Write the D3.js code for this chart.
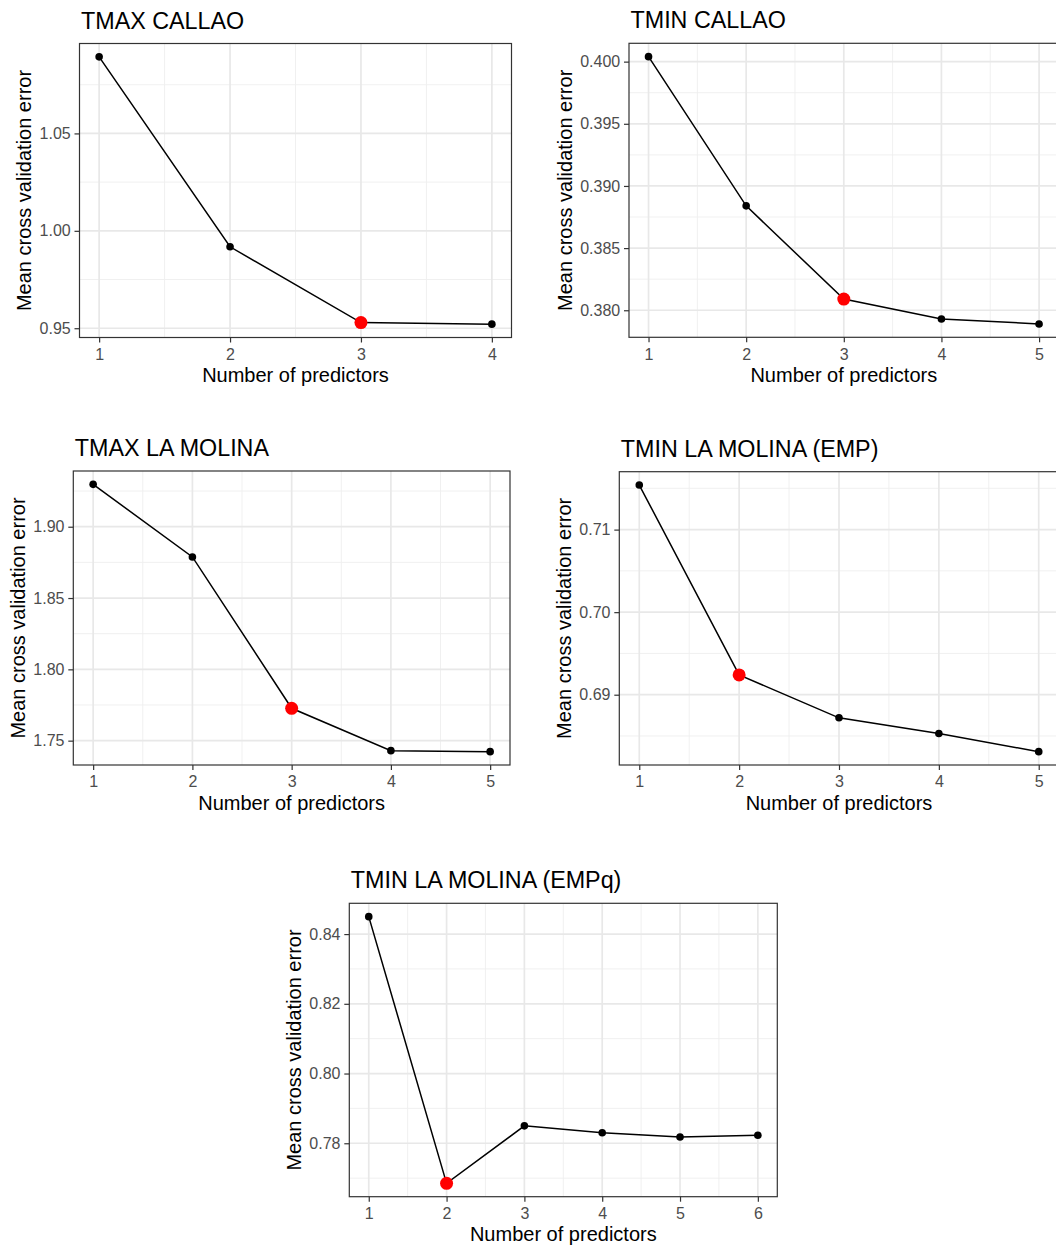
<!DOCTYPE html>
<html>
<head>
<meta charset="utf-8">
<script src="https://cdn.jsdelivr.net/npm/d3@7"></script>
<style>
  body { margin: 0; background: #fff; }
  svg { display: block; font-family: "Liberation Sans", Arial, sans-serif; }
</style>
</head>
<body>
<svg id="chart" width="1056" height="1246"></svg>
<script>
// values
var titles = ["TMAX CALLAO", "TMIN CALLAO", "TMAX LA MOLINA", "TMIN LA MOLINA (EMP)", "TMIN LA MOLINA (EMPq)"];
var tmaxCallao = [1.0893, 0.9918, 0.9529, 0.9521];
var tminCallao = [0.4004, 0.3884, 0.3809, 0.3793, 0.3789];
var tmaxLaMolina = [1.9297, 1.8788, 1.7727, 1.7430, 1.7423];
var tminLaMolinaEMP = [0.7154, 0.6924, 0.6872, 0.6853, 0.6831];
var tminLaMolinaEMPq = [0.8450, 0.7685, 0.7850, 0.7830, 0.7818, 0.7823];
var chosen = [3, 3, 3, 2, 2];   // number of predictors marked in red
var yTicks = [
  [0.95, 1.00, 1.05],
  [0.380, 0.385, 0.390, 0.395, 0.400],
  [1.75, 1.80, 1.85, 1.90],
  [0.69, 0.70, 0.71],
  [0.78, 0.80, 0.82, 0.84]
];
var yFormats = [".2f", ".3f", ".2f", ".2f", ".2f"];
var xLabel = "Number of predictors";
var yLabel = "Mean cross validation error";

var series = [tmaxCallao, tminCallao, tmaxLaMolina, tminLaMolinaEMP, tminLaMolinaEMPq];

// panel boxes (left, top, right, bottom)
var boxes = [
  [79.5, 43.5, 511.5, 337.5],
  [629, 43.3, 1058.6, 337.3],
  [73.3, 471, 510, 765],
  [619.3, 471.7, 1058.7, 765],
  [349.3, 903.3, 777.3, 1196.7]
];

var svg = d3.select("#chart");
svg.append("rect").attr("width", 1056).attr("height", 1246).attr("fill", "#fff");

function expand(ext){
  var pad = (ext[1] - ext[0]) * 0.05;
  return [ext[0] - pad, ext[1] + pad];
}

series.forEach(function(vals, i){
  var b = boxes[i];
  var pts = vals.map(function(v, k){ return {n: k + 1, v: v}; });
  var x = d3.scaleLinear().domain(expand([1, vals.length])).range([b[0], b[2]]);
  var y = d3.scaleLinear().domain(expand(d3.extent(vals))).range([b[3], b[1]]);

  var g = svg.append("g");

  // minor grid
  var xt = d3.range(1, vals.length + 1);
  var xMinor = d3.range(1.5, vals.length, 1);
  var yt = yTicks[i];
  var step = yt[1] - yt[0];
  var yMinor = [];
  for (var k = -1; k < yt.length; k++){
    var m = yt[0] + step * (k + 0.5);
    if (m > y.domain()[0] && m < y.domain()[1]) yMinor.push(m);
  }
  g.selectAll(".xmin").data(xMinor).enter().append("line")
    .attr("x1", x).attr("x2", x).attr("y1", b[1]).attr("y2", b[3])
    .attr("stroke", "#eeeeee").attr("stroke-width", 0.9);
  g.selectAll(".ymin").data(yMinor).enter().append("line")
    .attr("y1", y).attr("y2", y).attr("x1", b[0]).attr("x2", b[2])
    .attr("stroke", "#eeeeee").attr("stroke-width", 0.9);
  // major grid
  g.selectAll(".xmaj").data(xt).enter().append("line")
    .attr("x1", x).attr("x2", x).attr("y1", b[1]).attr("y2", b[3])
    .attr("stroke", "#e8e8e8").attr("stroke-width", 1.7);
  g.selectAll(".ymaj").data(yt).enter().append("line")
    .attr("y1", y).attr("y2", y).attr("x1", b[0]).attr("x2", b[2])
    .attr("stroke", "#e8e8e8").attr("stroke-width", 1.7);

  // line + points
  var line = d3.line().x(function(d){ return x(d.n); }).y(function(d){ return y(d.v); });
  g.append("path").datum(pts).attr("d", line)
    .attr("fill", "none").attr("stroke", "#000").attr("stroke-width", 1.5);
  g.selectAll(".pt").data(pts).enter().append("circle")
    .attr("cx", function(d){ return x(d.n); })
    .attr("cy", function(d){ return y(d.v); })
    .attr("r", function(d){ return d.n === chosen[i] ? 6.5 : 3.8; })
    .attr("fill", function(d){ return d.n === chosen[i] ? "#ff0000" : "#000"; });

  // border
  g.append("rect").attr("x", b[0]).attr("y", b[1])
    .attr("width", b[2] - b[0]).attr("height", b[3] - b[1])
    .attr("fill", "none").attr("stroke", "#333").attr("stroke-width", 1.2);

  // axes
  var ax = g.append("g").attr("transform", "translate(0," + b[3] + ")")
    .call(d3.axisBottom(x).tickValues(xt).tickFormat(d3.format("d"))
      .tickSizeInner(5).tickSizeOuter(0).tickPadding(6));
  var ay = g.append("g").attr("transform", "translate(" + b[0] + ",0)")
    .call(d3.axisLeft(y).tickValues(yt).tickFormat(d3.format(yFormats[i]))
      .tickSizeInner(5).tickSizeOuter(0).tickPadding(3.8));
  [ax, ay].forEach(function(a){
    a.select(".domain").remove();
    a.selectAll(".tick line").attr("stroke", "#333").attr("stroke-width", 1.2);
    a.selectAll(".tick text").attr("fill", "#4d4d4d")
      .style("font-size", "16px").style("font-family", "'Liberation Sans', Arial, sans-serif");
  });

  // label widths for y title placement
  var maxW = 0;
  ay.selectAll(".tick text").each(function(){ maxW = Math.max(maxW, this.getComputedTextLength()); });

  g.append("text").attr("x", b[0] + 1.5).attr("y", b[1] - 15)
    .attr("font-size", 23.3).attr("fill", "#000").text(titles[i]);
  g.append("text").attr("x", (b[0] + b[2]) / 2).attr("y", b[3] + 44.5)
    .attr("text-anchor", "middle").attr("font-size", 20).attr("fill", "#000").text(xLabel);
  var tx = b[0] - 8.8 - maxW - 8.5;
  g.append("text").attr("transform", "translate(" + tx + "," + ((b[1] + b[3]) / 2) + ") rotate(-90)")
    .attr("text-anchor", "middle").attr("font-size", 20).attr("fill", "#000").text(yLabel);
});
</script>
</body>
</html>
